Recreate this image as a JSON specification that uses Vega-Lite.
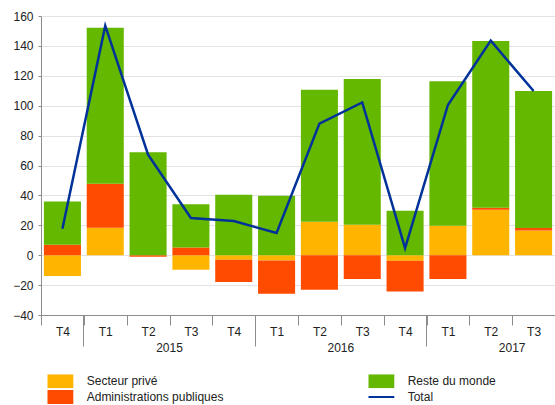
{
  "$schema": "https://vega.github.io/schema/vega-lite/v6.json",
  "width": 514,
  "height": 299,
  "autosize": "none",
  "padding": {"left": 41, "top": 16, "right": 0, "bottom": 90},
  "background": "white",
  "config": {
    "font": "Liberation Sans",
    "view": {"stroke": null},
    "axis": {"labelFontSize": 12, "labelColor": "#222222", "labelFont": "Liberation Sans", "domainColor": "#8c8c8c", "tickColor": "#8c8c8c", "titleFontSize": 12}
  },
  "datasets": {
    "bars": [
      {"q": "2014T4", "series": "Secteur privé", "ord": 1, "value": -13.9},
      {"q": "2014T4", "series": "Administrations publiques", "ord": 2, "value": 7.0},
      {"q": "2014T4", "series": "Reste du monde", "ord": 3, "value": 29.0},
      {"q": "2015T1", "series": "Secteur privé", "ord": 1, "value": 18.4},
      {"q": "2015T1", "series": "Administrations publiques", "ord": 2, "value": 29.4},
      {"q": "2015T1", "series": "Reste du monde", "ord": 3, "value": 104.4},
      {"q": "2015T2", "series": "Secteur privé", "ord": 1, "value": 0},
      {"q": "2015T2", "series": "Administrations publiques", "ord": 2, "value": -1.0},
      {"q": "2015T2", "series": "Reste du monde", "ord": 3, "value": 68.8},
      {"q": "2015T3", "series": "Secteur privé", "ord": 1, "value": -9.7},
      {"q": "2015T3", "series": "Administrations publiques", "ord": 2, "value": 5.2},
      {"q": "2015T3", "series": "Reste du monde", "ord": 3, "value": 28.8},
      {"q": "2015T4", "series": "Secteur privé", "ord": 1, "value": -3.0},
      {"q": "2015T4", "series": "Administrations publiques", "ord": 2, "value": -14.9},
      {"q": "2015T4", "series": "Reste du monde", "ord": 3, "value": 40.5},
      {"q": "2016T1", "series": "Secteur privé", "ord": 1, "value": -3.5},
      {"q": "2016T1", "series": "Administrations publiques", "ord": 2, "value": -22.3},
      {"q": "2016T1", "series": "Reste du monde", "ord": 3, "value": 39.8},
      {"q": "2016T2", "series": "Secteur privé", "ord": 1, "value": 22.4},
      {"q": "2016T2", "series": "Administrations publiques", "ord": 2, "value": -23.1},
      {"q": "2016T2", "series": "Reste du monde", "ord": 3, "value": 88.3},
      {"q": "2016T3", "series": "Secteur privé", "ord": 1, "value": 20.4},
      {"q": "2016T3", "series": "Administrations publiques", "ord": 2, "value": -15.9},
      {"q": "2016T3", "series": "Reste du monde", "ord": 3, "value": 97.5},
      {"q": "2016T4", "series": "Secteur privé", "ord": 1, "value": -3.7},
      {"q": "2016T4", "series": "Administrations publiques", "ord": 2, "value": -20.5},
      {"q": "2016T4", "series": "Reste du monde", "ord": 3, "value": 29.8},
      {"q": "2017T1", "series": "Secteur privé", "ord": 1, "value": 19.7},
      {"q": "2017T1", "series": "Administrations publiques", "ord": 2, "value": -15.9},
      {"q": "2017T1", "series": "Reste du monde", "ord": 3, "value": 96.6},
      {"q": "2017T2", "series": "Secteur privé", "ord": 1, "value": 30.4},
      {"q": "2017T2", "series": "Administrations publiques", "ord": 2, "value": 1.3},
      {"q": "2017T2", "series": "Reste du monde", "ord": 3, "value": 111.6},
      {"q": "2017T3", "series": "Secteur privé", "ord": 1, "value": 16.6},
      {"q": "2017T3", "series": "Administrations publiques", "ord": 2, "value": 1.6},
      {"q": "2017T3", "series": "Reste du monde", "ord": 3, "value": 91.6}
    ],
    "totals": [
      {"q": "2014T4", "total": 17.7},
      {"q": "2015T1", "total": 153.5},
      {"q": "2015T2", "total": 67.2},
      {"q": "2015T3", "total": 24.9},
      {"q": "2015T4", "total": 22.9},
      {"q": "2016T1", "total": 14.8},
      {"q": "2016T2", "total": 88.0},
      {"q": "2016T3", "total": 102.2},
      {"q": "2016T4", "total": 4.8},
      {"q": "2017T1", "total": 100.5},
      {"q": "2017T2", "total": 143.5},
      {"q": "2017T3", "total": 109.8}
    ]
  },
  "resolve": {"axis": {"x": "independent"}},
  "layer": [
    {
      "data": {"name": "bars"},
      "mark": {"type": "bar", "width": {"band": 0.865}},
      "encoding": {
        "x": {
          "field": "q", "type": "nominal",
          "scale": {"domain": ["2014T4","2015T1","2015T2","2015T3","2015T4","2016T1","2016T2","2016T3","2016T4","2017T1","2017T2","2017T3"], "paddingInner": 0, "paddingOuter": 0},
          "axis": {"orient": "bottom", "title": null, "labelExpr": "datum.value ? substring(datum.value, 4) : ''", "labelAngle": 0, "tickBand": "extent", "tickSize": 10, "labelPadding": 1, "grid": false, "labelOverlap": false, "labelBound": false}
        },
        "y": {
          "field": "value", "type": "quantitative", "stack": "zero",
          "scale": {"domain": [-40, 160], "nice": false},
          "axis": {"title": null, "values": [-40,-20,0,20,40,60,80,100,120,140,160], "tickSize": 3, "labelPadding": 5, "gridColor": "#e3e3e3", "grid": true}
        },
        "color": {
          "field": "series", "type": "nominal",
          "scale": {"domain": ["Secteur privé", "Administrations publiques", "Reste du monde", "Total"], "range": ["#FFB400", "#FF4B00", "#65B800", "#003299"]},
          "legend": {
            "title": null, "orient": "none", "legendX": 6.3, "legendY": 358.3, "columns": 2, "columnPadding": 144, "rowPadding": 1.7,
            "clipHeight": 14, "symbolSize": 676, "symbolStrokeWidth": 0, "labelOffset": 13.4, "labelFontSize": 12, "labelColor": "#222222", "labelLimit": 300, "padding": 0,
            "encode": {"symbols": {"update": {"shape": {"signal": "datum.value === 'Total' ? 'M-1,-0.08H1V0.08H-1Z' : 'M-1,-0.54H1V0.54H-1Z'"}, "strokeWidth": {"value": 0}}}}
          }
        },
        "order": {"field": "ord", "type": "quantitative"}
      }
    },
    {
      "data": {"name": "totals"},
      "mark": {"type": "line", "color": "#003299", "strokeWidth": 2.5},
      "encoding": {
        "x": {
          "field": "q", "type": "nominal",
          "axis": {"orient": "bottom", "title": null, "values": ["2014T4", "2015T4", "2016T4"], "bandPosition": 1, "tickSize": 31, "domain": false, "grid": false, "labelAngle": 0, "labelExpr": "toString(toNumber(substring(datum.value, 0, 4)) + 1)", "labelOffset": 107.1, "labelPadding": -4, "labelOverlap": false, "labelBound": false}
        },
        "y": {
          "field": "total", "type": "quantitative",
          "axis": {"title": null, "values": [-40,-20,0,20,40,60,80,100,120,140,160], "tickSize": 3, "labelPadding": 5, "gridColor": "#e3e3e3", "grid": true}
        }
      }
    }
  ]
}
